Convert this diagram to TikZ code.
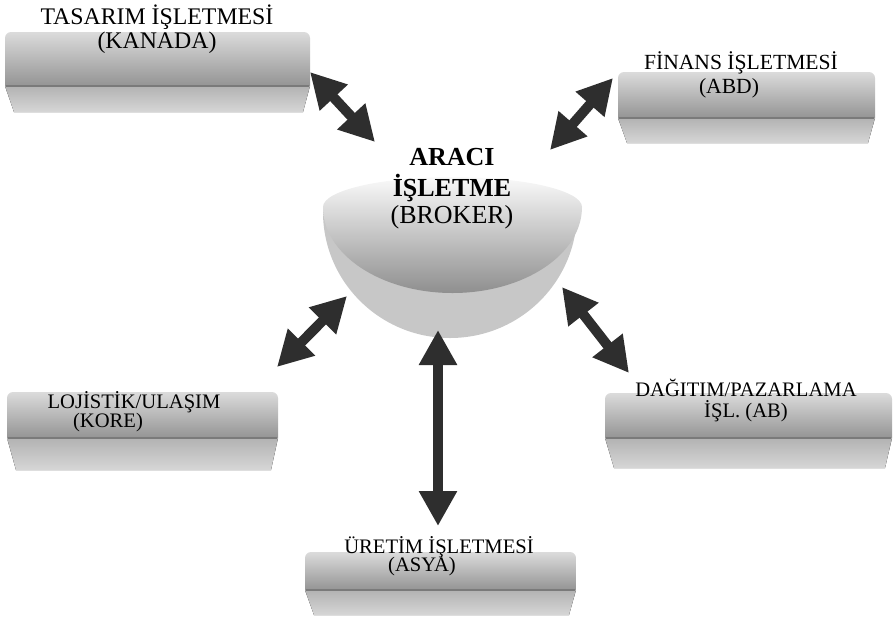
\documentclass[tikz,border=0pt]{standalone}
\usepackage{fontspec}
\setmainfont{Liberation Serif}
\usetikzlibrary{arrows.meta}
\tikzset{
  upperface/.style={top color=black!14, bottom color=black!42},
  lowerface/.style={top color=black!30, bottom color=black!16},
  bandline/.style={black!52, line width=1.6pt},
  lbl/.style={inner sep=0pt, text=black, align=center},
  dbl/.style={line width=10pt, draw=black!82,
    {Triangle[length=35pt,width=36pt]}-{Triangle[length=35pt,width=36pt]}},
}
\newcommand\drawslab[5]{%
  \fill[lowerface] (#1,#4) -- (#2,#4) -- ({#2-7},#5) -- ({#1+9},#5) -- cycle;
  \shade[upperface] (#1,#4) [rounded corners=6pt] -- (#1,#3) -- (#2,#3) [sharp corners] -- (#2,#4) -- cycle;
  \draw[bandline] ({#1+1},#4) -- ({#2-1},#4);
}
\begin{document}
\begin{tikzpicture}[x=1pt,y=-1pt]
\useasboundingbox (0,0) rectangle (895,622);

% boxes
\drawslab{5}{310}{32}{86}{112}
\drawslab{618}{875}{72}{118}{143}
\drawslab{7}{278}{392}{438}{470}
\drawslab{605}{892}{393}{438}{468}
\drawslab{305}{576}{552}{590}{615}

% broker bowl
\fill[black!22] (323,212) arc[start angle=180, end angle=0, x radius=127, y radius=126];
\shade[top color=black!2, bottom color=black!44]
  (323,207) arc[start angle=180, end angle=360, x radius=129.5, y radius=30]
  arc[start angle=0, end angle=180, x radius=129.5, y radius=86] -- cycle;

% texts
\node[lbl, font=\fontsize{23.8}{26}\selectfont] (tas1) at (157,17) {TASARIM İŞLETMESİ};
\node[lbl, font=\fontsize{23.8}{26}\selectfont] (tas2) at (157,43) {(KANADA)};
\node[lbl, font=\fontsize{21.6}{25}\selectfont] (fin1) at (741,63) {FİNANS İŞLETMESİ};
\node[lbl, font=\fontsize{21.6}{25}\selectfont] (fin2) at (729,88) {(ABD)};
\node[lbl, font=\fontsize{26}{30}\selectfont\bfseries] (br1) at (452,157) {ARACI};
\node[lbl, font=\fontsize{26}{30}\selectfont\bfseries] (br2) at (452,188) {İŞLETME};
\node[lbl, font=\fontsize{26}{30}\selectfont] (br3) at (452,217) {(BROKER)};
\node[lbl, font=\fontsize{20.6}{21}\selectfont] (loj1) at (134,402) {LOJİSTİK/ULAŞIM};
\node[lbl, font=\fontsize{20.6}{21}\selectfont] (loj2) at (108,423) {(KORE)};
\node[lbl, font=\fontsize{20.6}{21}\selectfont] (dag) at (746,400) {DAĞITIM/PAZARLAMA\\İŞL. (AB)};
\node[lbl, font=\fontsize{20.6}{21}\selectfont] (ure1) at (439,547) {ÜRETİM İŞLETMESİ};
\node[lbl, font=\fontsize{20.6}{21}\selectfont] (ure2) at (422,567) {(ASYA)};

% arrow end points
\coordinate (a1) at (310,72);  \coordinate (b1) at (375,142);
\coordinate (a2) at (613,78);  \coordinate (b2) at (550,150);
\coordinate (a3) at (347,296); \coordinate (b3) at (277,367);
\coordinate (a4) at (562,287); \coordinate (b4) at (629,373);
\coordinate (a5) at (438,330); \coordinate (b5) at (438,526);

\draw[dbl] (a1) -- (b1);
\draw[dbl] (a2) -- (b2);
\draw[dbl] (a3) -- (b3);
\draw[dbl] (a4) -- (b4);
\draw[dbl] (a5) -- (b5);
\end{tikzpicture}
\end{document}
